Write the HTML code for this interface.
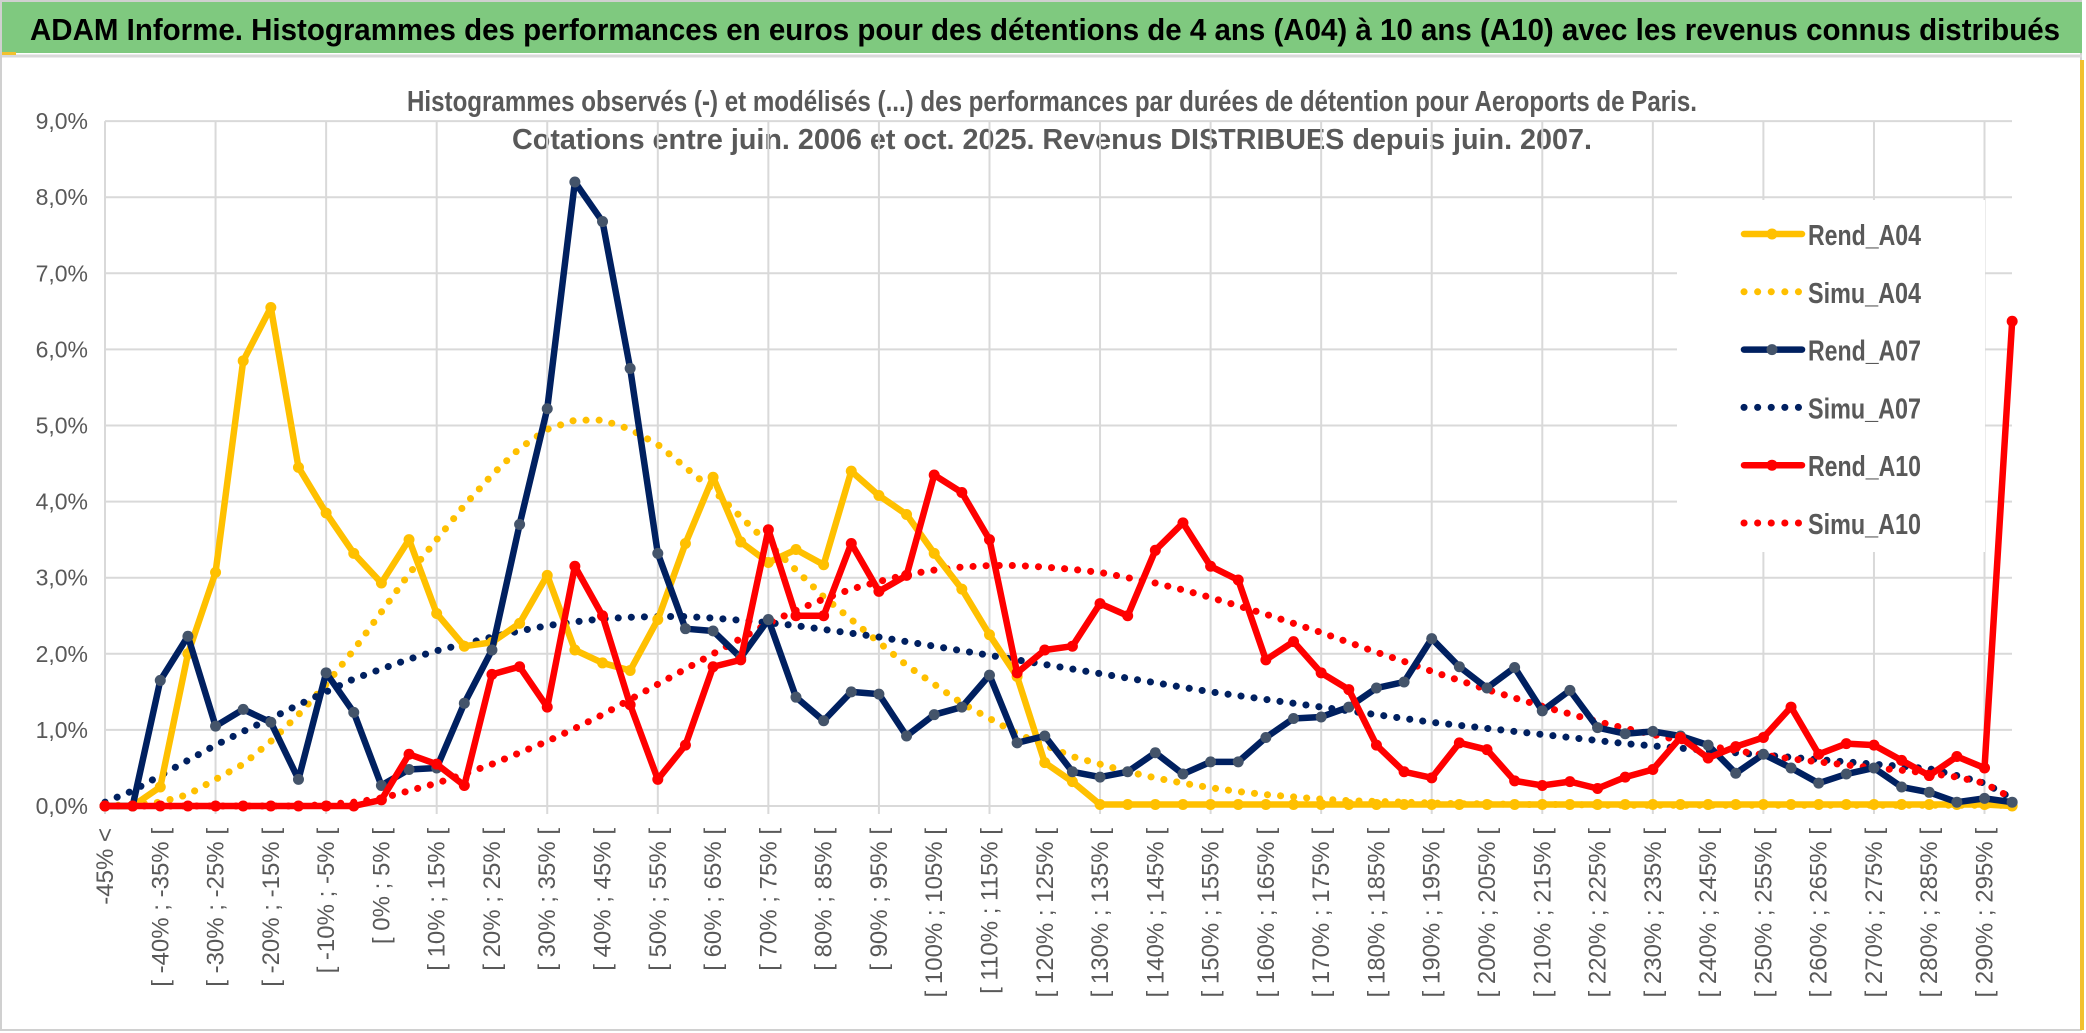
<!DOCTYPE html>
<html><head><meta charset="utf-8">
<style>
html,body{margin:0;padding:0;background:#fff;}
body{width:2086px;height:1033px;overflow:hidden;font-family:"Liberation Sans",sans-serif;}
svg{display:block;}
</style></head>
<body>
<svg id="chart" width="2086" height="1033" viewBox="0 0 2086 1033" xmlns="http://www.w3.org/2000/svg">
  <rect x="0" y="0" width="2086" height="1033" fill="#fff"/>
  <rect x="1" y="1" width="2080" height="1029" fill="none" stroke="#d0d0d0" stroke-width="2"/>
  <rect x="2" y="2" width="2080" height="51" fill="#7fc97f"/>
  <line x1="2" y1="56" x2="2082" y2="56" stroke="#d9d9d9" stroke-width="3"/>
  <rect x="2" y="52" width="14" height="3" fill="#f2c12e"/>
  <rect x="2080" y="60" width="4" height="970" fill="#f2c12e"/>
  <text x="30" y="40" font-size="31" font-weight="bold" fill="#000" textLength="2030" lengthAdjust="spacingAndGlyphs">ADAM Informe. Histogrammes des performances en euros pour des détentions de 4 ans (A04) à 10 ans (A10) avec les revenus connus distribués</text>
  <text x="1052" y="111" text-anchor="middle" font-size="29" font-weight="bold" fill="#595959" textLength="1290" lengthAdjust="spacingAndGlyphs">Histogrammes observés (-) et modélisés (...) des performances par durées de détention pour Aeroports de Paris.</text>
  <text x="1052" y="149" text-anchor="middle" font-size="29" font-weight="bold" fill="#595959" textLength="1080" lengthAdjust="spacingAndGlyphs">Cotations entre juin. 2006 et oct. 2025. Revenus DISTRIBUES depuis juin. 2007.</text>
  <g id="grid"></g>
  <g id="yaxis"></g>
  <g id="xaxis"></g>
  <g id="series"></g>
  <g id="legend"></g>
</svg>
<script>
const categories = ["-45% <"];
for (let v = -45; v <= 295; v += 5) categories.push("[ " + v + "% ; " + (v + 5) + "% [");
const yTicks = [0,1,2,3,4,5,6,7,8,9];
const yTickLabels = ["0,0%","1,0%","2,0%","3,0%","4,0%","5,0%","6,0%","7,0%","8,0%","9,0%"];

const rendA04 = [0,0,0.25,2.0,3.07,5.85,6.55,4.45,3.85,3.32,2.93,3.5,2.53,2.1,2.15,2.4,3.03,2.05,1.88,1.78,2.45,3.45,4.32,3.47,3.2,3.37,3.17,4.4,4.08,3.83,3.32,2.85,2.25,1.7,0.57,0.32,0.02,0.02,0.02,0.02,0.02,0.02,0.02,0.02,0.02,0.02,0.02,0.02,0.02,0.02,0.02,0.02,0.02,0.02,0.02,0.02,0.02,0.02,0.02,0.02,0.02,0.02,0.02,0.02,0.02,0.02,0.02,0.02,0.02,0.0];
const simuA04 = [0,0.02,0.05,0.15,0.35,0.55,0.85,1.2,1.6,2.05,2.55,3.05,3.5,3.95,4.35,4.7,4.95,5.07,5.07,4.95,4.75,4.45,4.15,3.8,3.45,3.1,2.75,2.45,2.15,1.85,1.6,1.35,1.15,0.95,0.8,0.65,0.55,0.45,0.37,0.3,0.24,0.19,0.15,0.12,0.09,0.07,0.06,0.05,0.04,0.03,0.03,0.02,0.02,0.02,0.01,0.01,0.01,0.01,0.01,0.01,0.01,0.01,0.01,0.01,0.01,0.01,0.01,0.01,0.01,0.01];
const rendA07 = [0,0,1.65,2.23,1.05,1.27,1.1,0.35,1.75,1.23,0.27,0.48,0.5,1.35,2.05,3.7,5.22,8.2,7.68,5.75,3.32,2.33,2.3,1.95,2.45,1.43,1.12,1.5,1.47,0.92,1.2,1.3,1.72,0.83,0.92,0.45,0.38,0.45,0.7,0.42,0.58,0.58,0.9,1.15,1.17,1.3,1.55,1.63,2.2,1.83,1.55,1.82,1.25,1.52,1.03,0.95,0.98,0.92,0.8,0.43,0.68,0.5,0.3,0.42,0.5,0.25,0.18,0.05,0.1,0.05];
const simuA07 = [0.05,0.2,0.4,0.6,0.8,0.98,1.15,1.33,1.5,1.67,1.8,1.93,2.04,2.13,2.22,2.3,2.37,2.42,2.46,2.48,2.49,2.49,2.47,2.44,2.41,2.37,2.32,2.27,2.22,2.16,2.1,2.04,1.98,1.92,1.86,1.8,1.74,1.68,1.62,1.56,1.5,1.45,1.4,1.35,1.3,1.25,1.2,1.15,1.1,1.06,1.02,0.98,0.94,0.9,0.86,0.82,0.79,0.76,0.73,0.7,0.67,0.64,0.61,0.58,0.55,0.52,0.49,0.4,0.3,0.1];
const rendA10 = [0,0,0,0,0,0,0,0,0,0,0.08,0.68,0.55,0.27,1.73,1.83,1.3,3.15,2.5,1.33,0.35,0.8,1.83,1.92,3.63,2.5,2.5,3.45,2.82,3.03,4.35,4.12,3.5,1.75,2.05,2.1,2.66,2.5,3.36,3.72,3.15,2.97,1.92,2.16,1.75,1.53,0.8,0.45,0.37,0.83,0.74,0.33,0.27,0.32,0.23,0.38,0.48,0.9,0.63,0.78,0.9,1.3,0.68,0.82,0.8,0.6,0.4,0.65,0.5,6.37];
const simuA10 = [0,0,0,0,0,0,0,0,0.02,0.05,0.1,0.2,0.3,0.42,0.55,0.7,0.85,1.02,1.2,1.4,1.6,1.8,2.0,2.2,2.4,2.57,2.72,2.85,2.95,3.04,3.1,3.14,3.16,3.16,3.14,3.11,3.07,3.0,2.93,2.84,2.74,2.63,2.52,2.4,2.28,2.15,2.02,1.9,1.77,1.65,1.53,1.42,1.31,1.21,1.11,1.02,0.94,0.86,0.79,0.73,0.67,0.62,0.58,0.54,0.5,0.47,0.43,0.38,0.3,0.1];

const NS = "http://www.w3.org/2000/svg";
const X0 = 105, XSTEP = 27.64, Y0 = 806, YUNIT = 76.1, PLOT_RIGHT = 2012;
function xPos(i){ return X0 + i * XSTEP; }
function yPos(v){ return Y0 - v * YUNIT; }
function mk(tag, attrs, parent){
  const el = document.createElementNS(NS, tag);
  for (const k in attrs) el.setAttribute(k, attrs[k]);
  parent.appendChild(el);
  return el;
}
const grid = document.getElementById('grid');
yTicks.forEach((t) => {
  const l = mk('line', {x1: X0, x2: PLOT_RIGHT, y1: yPos(t), y2: yPos(t), stroke: '#d9d9d9', 'stroke-width': 2}, grid);
  
  
});
for (let i = 0; i < categories.length; i += 4) {
  const l = mk('line', {x1: xPos(i), x2: xPos(i), y1: yPos(9), y2: Y0 + 8, stroke: '#d9d9d9', 'stroke-width': 2}, grid);
  
  
}
const yaxis = document.getElementById('yaxis');
yTicks.forEach((t, k) => {
  const tx = mk('text', {x: 88, y: yPos(t) + 8, 'text-anchor': 'end', 'font-size': 23, fill: '#595959'}, yaxis);
  tx.textContent = yTickLabels[k];
  
  
});
const xaxis = document.getElementById('xaxis');
for (let i = 0; i < categories.length - 1; i += 2) {
  const x = xPos(i) + 8, y = 828;
  const tx = mk('text', {x: x, y: y, 'text-anchor': 'end', 'font-size': 24, fill: '#595959', transform: 'rotate(-90 ' + x + ' ' + y + ')'}, xaxis);
  tx.textContent = categories[i];
  
  
}
const series = document.getElementById('series');
function drawDotted(vals, color, name){
  const pts = vals.map((v, i) => xPos(i) + ',' + yPos(v)).join(' ');
  const p = mk('polyline', {points: pts, fill: 'none', stroke: color, 'stroke-width': 7, 'stroke-linecap': 'round', 'stroke-dasharray': '0.1 13'}, series);
  
  
}
function drawSolid(vals, color, markerColor, name){
  const pts = vals.map((v, i) => xPos(i) + ',' + yPos(v)).join(' ');
  const p = mk('polyline', {points: pts, fill: 'none', stroke: color, 'stroke-width': 6.5, 'stroke-linejoin': 'round', 'stroke-linecap': 'round'}, series);
  
  
  vals.forEach((v, i) => {
    const c = mk('circle', {cx: xPos(i), cy: yPos(v), r: 5.5, fill: markerColor}, series);
    
    
  });
}
drawDotted(simuA04, '#ffc000', 'simu-a04-line');
drawDotted(simuA07, '#002060', 'simu-a07-line');
drawDotted(simuA10, '#ff0000', 'simu-a10-line');
drawSolid(rendA04, '#ffc000', '#ffc000', 'rend-a04-line');
drawSolid(rendA07, '#002060', '#44546a', 'rend-a07-line');
drawSolid(rendA10, '#ff0000', '#ff0000', 'rend-a10-line');

const legend = document.getElementById('legend');
const lbg = mk('rect', {x: 1677, y: 200, width: 308, height: 352, fill: '#fff'}, legend);


const legendNames = ["Rend_A04","Simu_A04","Rend_A07","Simu_A07","Rend_A10","Simu_A10"];
const legendColors = ["#ffc000","#ffc000","#002060","#002060","#ff0000","#ff0000"];
const legendMarkers = ["#ffc000","","#44546a","","#ff0000",""];
legendNames.forEach((n, k) => {
  const y = 234 + k * 57.8;
  if (k % 2 === 0) {
    const l = mk('line', {x1: 1744, x2: 1802, y1: y, y2: y, stroke: legendColors[k], 'stroke-width': 6.5, 'stroke-linecap': 'round'}, legend);
    
    
    const c = mk('circle', {cx: 1772, cy: y, r: 5.5, fill: legendMarkers[k]}, legend);
    
    
  } else {
    const l = mk('line', {x1: 1744, x2: 1802, y1: y, y2: y, stroke: legendColors[k], 'stroke-width': 7, 'stroke-linecap': 'round', 'stroke-dasharray': '0.1 13.5'}, legend);
    
    
  }
  const t = mk('text', {x: 1808, y: y + 11, 'font-size': 29, 'font-weight': 'bold', fill: '#595959', textLength: 113, lengthAdjust: 'spacingAndGlyphs'}, legend);
  t.textContent = n;
  
  
});
</script>
</body></html>
